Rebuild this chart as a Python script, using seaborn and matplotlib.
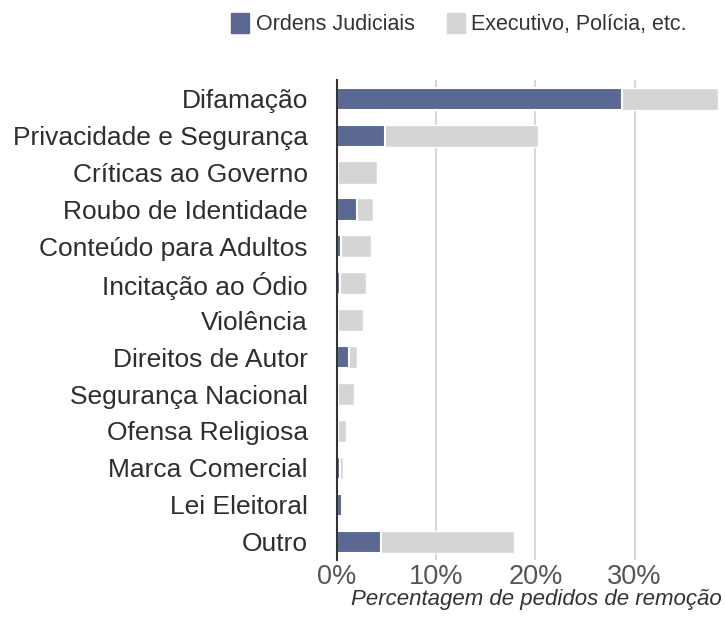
import matplotlib.pyplot as plt
import seaborn as sns
import pandas as pd
from matplotlib.patches import Patch
from matplotlib.ticker import FuncFormatter

categorias = ['Difamação', 'Privacidade e Segurança', 'Críticas ao Governo',
              'Roubo de Identidade', 'Conteúdo para Adultos', 'Incitação ao Ódio',
              'Violência', 'Direitos de Autor', 'Segurança Nacional',
              'Ofensa Religiosa', 'Marca Comercial', 'Lei Eleitoral', 'Outro']
ordens = [28.7, 4.85, 0.1, 2.0, 0.4, 0.3, 0.1, 1.15, 0.1, 0.1, 0.3, 0.5, 4.45]
total = [38.4, 20.3, 4.0, 3.6, 3.4, 2.9, 2.6, 2.0, 1.75, 0.9, 0.55, 0.5, 17.8]

df = pd.DataFrame({'categoria': categorias, 'ordens': ordens, 'total': total})

sns.set_theme(style='white')
plt.rcParams['font.family'] = ['Liberation Sans', 'DejaVu Sans']

azul = '#5a6892'
cinza = '#d5d5d5'

fig = plt.figure(figsize=(7.25, 6.17), dpi=100)
ax = fig.add_axes([0.465, 0.092, 0.528, 0.778])

# total (cinza) por baixo, ordens judiciais (azul) por cima
sns.barplot(data=df, x='total', y='categoria', color=cinza, width=0.6,
            saturation=1, ax=ax, zorder=2)
sns.barplot(data=df, x='ordens', y='categoria', color=azul, width=0.6,
            saturation=1, edgecolor='white', linewidth=1.5, ax=ax, zorder=3)

ax.set_xlim(0, 38.6)
ax.set_ylim(12.5, -0.5)
ax.set_xticks([0, 10, 20, 30])
ax.xaxis.set_major_formatter(FuncFormatter(lambda v, p: f'{v:.0f}%'))
ax.grid(axis='x', color='#d9d6d6', linewidth=1.5, zorder=0)
ax.set_axisbelow(True)

for s in ['top', 'right', 'bottom']:
    ax.spines[s].set_visible(False)
ax.spines['left'].set_color('#333333')
ax.spines['left'].set_linewidth(1.5)
ax.spines['left'].set_zorder(5)

ax.tick_params(axis='y', length=0, pad=21, labelsize=19, labelcolor='#2e2e2e')
ax.tick_params(axis='x', length=0, pad=3, labelsize=19.5, labelcolor='#555555')
ax.set_ylabel('')
ax.set_xlabel('')
fig.text(0.996, 0.0194, 'Percentagem de pedidos de remoção', ha='right', va='baseline',
         fontsize=16, style='italic', color='#333333')

handles = [Patch(color=azul, label='Ordens Judiciais'),
           Patch(color=cinza, label='Executivo, Polícia, etc.')]
fig.legend(handles=handles, loc='center', bbox_to_anchor=(0.633, 0.961),
           ncol=2, frameon=False, fontsize=15.5, handlelength=0.85, handleheight=1.1,
           handletextpad=0.3, columnspacing=1.5, labelcolor='#333333')

fig.savefig('out.png', dpi=100, facecolor='white')
